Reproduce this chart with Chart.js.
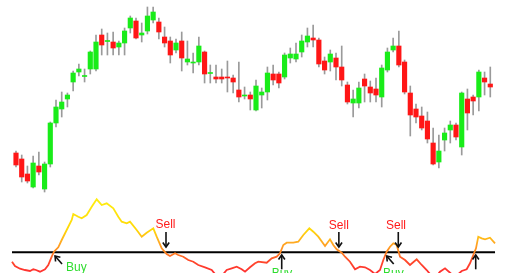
<!DOCTYPE html>
<html>
<head>
<meta charset="utf-8">
<script src="https://cdn.jsdelivr.net/npm/chart.js@4/dist/chart.umd.min.js"></script>
<style>
html,body{margin:0;padding:0;background:#fff;overflow:hidden}
#c{display:block}
</style>
</head>
<body>
<canvas id="c" width="520" height="273"></canvas>
<script>
// ---- price bars (one per session, index 0..83) ----
const open  = [120,114,99,86,107,84,109,150,164,174, 191,201,196.5,204,204,238,231.5,231,226,230, 245,252,238,242,253,251,236,232,223,232, 211,210,211,221,199.5,196,196,196,195,183, 177,178,163,178,181,199,199,196,215,214, 221,231,235,233,212,211,215,206,188,170, 170,194,186,184,176,203,223,227,211,180, 164,157,152,130,111,133,143,148,126,174, 176,176,195,189];
const high  = [122,118,107,117,121,111,151,173,181,180, 202,209,204,222,238,244,240,241,232,245, 257,255,250,266,266,255,246,236,234,241, 232,220,236,222,208,208,204,212,198,211, 186,181,193,185,206,208,201,220,225,230, 238,245,248,235,216,223,220,227,191,183, 191,199,192,195,208,225,235,242,213,187, 169,166,161,145,138,145,152,150,181,184, 178,203,201,206];
const low   = [106,91,90,85,98,81,106,146,156,166, 182,197,191,199,202,218,218,218,218,218, 240,234,231,239,250,234,226,210,220,202, 208,200,208,190,190,190,190,181,180,171, 174,163,162,165,173,188,185,194,210,211, 216,226,226,206,199,202,193,187,169,156, 165,171,171,171,166,201,221,206,179,137, 150,143,130,108,105,122,130,133,118,143, 158,162,178,176];
const close = [108,96,92,110,101,109,150,166,171,178, 200,204,197.5,221,231,228,232.5,225,230,242, 255,235,240,257,261,241,230,218,230,215, 214,211,227,199,200.5,194,194,195,191,176, 178,174,187,181,200,193,190,218,219,219, 232,237,233,209,203,219,206,193,171,174, 185,187,180,178,205,221,227,208,181,158, 156,145,134,109,122,140,148,136,180,160, 172,201,191,186];

// ---- oscillator (time in bar units, value) ----
const oscT = [-0.7,-0.18,0.7,1.58,2.45,3.03,3.5,4.2,5.08,5.65, 6.25,6.65,7.4,8.0,8.87,9.75,10.03,10.9,11.5,12.37, 13.25,14.12,15.0,15.87,17.03,17.9,18.5,19.37,19.95,21.12, 22.0,22.87,24.03,24.62,25.5,26.37,26.95,27.83,28.4,29.28, 30.15,31.03,31.9,33.08,34.25,34.83,35.7,36.87,37.75,38.62, 39.5,40.08,40.95,41.83,42.4,43.87,44.75,45.62,46.2,46.78, 47.37,48.53,49.4,50.28,51.33,52.03,52.9,54.08,54.95,55.53, 56.12,57.0,57.58,58.45,59.33,60.2,61.08,61.95,62.83,63.7, 64.28,64.87,65.45,66.03,66.62,67.2,68.08,68.95,70.12,71.0, 71.87,72.45,73.33,74.2,75.08,75.95,76.83,78.0,78.87,79.45, 80.03,80.5,80.9,81.5,82.08,82.95,83.83];
const oscV = [-9.4,-13.7,-16.4,-17.7,-18.7,-17.0,-17.7,-19.4,-17.0,-12.7, -4.4,0.6,5.0,12.3,22.3,32.3,38.3,35.6,34.0,37.3, 45.6,53.0,47.3,49.0,44.0,35.6,30.6,29.0,30.6,22.3, 15.6,19.6,24.0,15.6,4.0,-1.7,-3.7,-1.0,-2.7,-4.4, -7.7,-9.4,-12.7,-15.0,-17.7,-21.7,-25.7,-17.7,-16.0,-14.4, -17.0,-19.4,-15.0,-11.0,-9.4,-10.4,-6.0,-4.4,-1.0,7.3, 9.6,9.6,10.6,17.3,24.0,20.6,15.6,6.3,13.0,7.3, 3.0,-0.4,-4.4,-9.4,-17.0,-14.4,-15.0,-17.7,-21.7,-17.7, -7.7,0.6,5.6,9.0,7.3,-4.4,-7.7,-12.7,-7.0,-12.7, -17.7,-21.7,-25.7,-19.4,-16.0,-20.4,-24.7,-18.7,-17.0,-11.0, -2.7,4.0,15.6,14.0,13.0,14.6,9.0];

// ---- signals ----
const signalLabels = ['Buy','Sell','Buy','Sell','Buy','Sell','Buy'];
const signalTimes  = [6.83, 26.25, 46.5, 56.5, 64.87, 66.9, 80.45];

const GREEN = '#19ec19', RED = '#ff1616', WICK = '#9a9a9a';
const BUY_COLOR = '#2fdc2f', SELL_COLOR = '#ff1a1a';

const bodies = open.map((o, i) => ({ x: i, y: [o, close[i]] }));
const wicks  = open.map((o, i) => ({ x: i, y: [low[i], high[i]] }));
const bodyColors = open.map((o, i) => close[i] >= o ? GREEN : RED);
const oscData = oscT.map((t, i) => ({ x: t, y: oscV[i] }));
const zeroData = [{ x: oscT[0], y: 0 }, { x: oscT[oscT.length - 1], y: 0 }];

function oscGradient(context) {
  const chart = context.chart;
  const { ctx, chartArea, scales } = chart;
  if (!chartArea || !scales.yo) return '#ff9900';
  const yo = scales.yo;
  const g = ctx.createLinearGradient(0, yo.getPixelForValue(54), 0, yo.getPixelForValue(-20));
  g.addColorStop(0, '#ffee10');
  g.addColorStop(0.43, '#ffd808');
  g.addColorStop(0.595, '#ffaa22');
  g.addColorStop(0.73, '#ff8822');
  g.addColorStop(0.84, '#ff4a2a');
  g.addColorStop(1, '#ff3030');
  return g;
}

function drawArrow(ctx, from, to) {
  const [x0, y0] = from, [x1, y1] = to;
  const a = Math.atan2(y1 - y0, x1 - x0), L = 5.5, h = 0.62;
  ctx.strokeStyle = '#111';
  ctx.lineWidth = 1.6;
  ctx.beginPath(); ctx.moveTo(x0, y0); ctx.lineTo(x1, y1); ctx.stroke();
  ctx.beginPath();
  ctx.moveTo(x1 - L * Math.cos(a - h), y1 - L * Math.sin(a - h));
  ctx.lineTo(x1, y1);
  ctx.lineTo(x1 - L * Math.cos(a + h), y1 - L * Math.sin(a + h));
  ctx.stroke();
}

const signalPlugin = {
  id: 'signals',
  afterDatasetsDraw(chart, args, opts) {
    const { ctx, scales } = chart;
    const xs = scales.x, yo = scales.yo;
    const z = yo.getPixelForValue(0);
    ctx.save();
    ctx.font = opts.font;
    signalLabels.forEach((lab, i) => {
      const m = opts.marks[i];
      const px = xs.getPixelForValue(signalTimes[i]);
      let tip, tail;
      if (m.kind === 'down') { tip = [px, z - 5.3]; tail = [px, z - 20.3]; }
      else if (m.kind === 'up') { tip = [px, z + 2.7]; tail = [px, z + 17]; }
      else { tip = [px, z + 3.7]; tail = [px + 7, z + 11.7]; }
      drawArrow(ctx, tail, tip);
      ctx.fillStyle = lab === 'Buy' ? BUY_COLOR : SELL_COLOR;
      ctx.textAlign = m.align;
      ctx.textBaseline = 'alphabetic';
      ctx.fillText(lab, px + m.dx, z + m.dy);
    });
    ctx.restore();
  }
};

new Chart(document.getElementById('c'), {
  type: 'bar',
  data: {
    datasets: [
      { type: 'line', data: oscData, xAxisID: 'x', yAxisID: 'yo', borderColor: oscGradient, borderWidth: 1.8, pointRadius: 0, tension: 0, order: 0 },
      { type: 'line', data: zeroData, xAxisID: 'x', yAxisID: 'yo', borderColor: '#000', borderWidth: 2, pointRadius: 0, order: 1 },
      { type: 'bar', data: bodies, xAxisID: 'x', yAxisID: 'y', backgroundColor: bodyColors, borderWidth: 0, barThickness: 4.5, grouped: false, order: 2 },
      { type: 'bar', data: wicks, xAxisID: 'x', yAxisID: 'y', backgroundColor: WICK, borderWidth: 0, barThickness: 1, grouped: false, order: 3 }
    ]
  },
  options: {
    responsive: false,
    animation: false,
    devicePixelRatio: 1,
    layout: { padding: 0 },
    events: [],
    plugins: {
      legend: { display: false },
      tooltip: { enabled: false },
      signals: {
        font: '12px "Liberation Sans Narrow", "Arial Narrow", "Liberation Sans", Arial, sans-serif',
        marks: [
          { kind: 'diag', dx: 11, dy: 18.5, align: 'left' },
          { kind: 'down', dx: -0.5, dy: -24.3, align: 'center' },
          { kind: 'up', dx: 0.3, dy: 24.5, align: 'center' },
          { kind: 'down', dx: 0, dy: -23.3, align: 'center' },
          { kind: 'diag', dx: -3.7, dy: 24.5, align: 'left' },
          { kind: 'down', dx: -2.3, dy: -23.3, align: 'center' },
          { kind: 'up', dx: 0, dy: 36, align: 'center' }
        ]
      }
    },
    scales: {
      x: { type: 'linear', min: -2.8, max: 88.2, offset: false, bounds: 'ticks', display: false },
      y: { type: 'linear', min: 0, max: 273, display: false },
      yo: { type: 'linear', min: -20.7, max: 252.3, display: false }
    }
  },
  plugins: [signalPlugin]
});
</script>
</body>
</html>
